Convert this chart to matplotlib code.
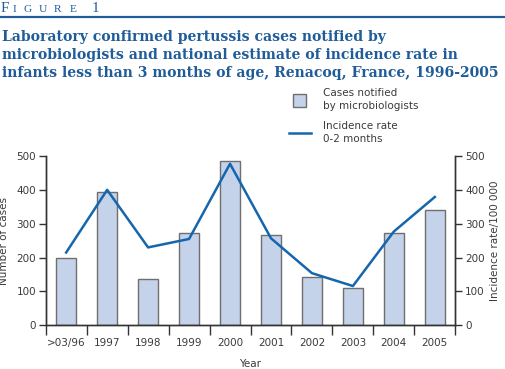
import matplotlib
matplotlib.use("Agg")
import matplotlib.pyplot as plt
import numpy as np

categories = [">03/96", "1997", "1998", "1999", "2000", "2001", "2002", "2003", "2004", "2005"]
cases = [198, 395, 136, 274, 485, 268, 142, 109, 272, 341]
incidence = [215, 400, 230, 255, 477, 257, 154, 116, 277, 379]
yticks = [0, 100, 200, 300, 400, 500]

W, H = 505, 369
fig = plt.figure(figsize=(W / 100, H / 100), dpi=100)
blue_title = "#1f5c99"
line_blue = "#1566ad"
bar_fill = "#c4d3ea"
bar_edge = "#6f6f6f"
txt = "#3a3a3a"
sans = "DejaVu Sans"

def fx(px):
    return px / W

def fy(py):
    return 1 - py / H

# Header
fig.text(fx(1), fy(12.5), "F", color=blue_title, fontsize=10.8, family="Liberation Serif", va="baseline")
for ch, xp in zip("IGURE", [13, 23, 39, 54, 70]):
    fig.text(fx(xp), fy(12.5), ch, color=blue_title, fontsize=8.2, family="Liberation Serif", va="baseline")
fig.text(fx(92), fy(12.5), "1", color=blue_title, fontsize=10.8, family="Liberation Serif", va="baseline")
fig.add_artist(plt.Line2D([0, 1], [fy(16.5), fy(16.5)], color=blue_title, lw=1.6, transform=fig.transFigure))

title_lines = ["Laboratory confirmed pertussis cases notified by",
               "microbiologists and national estimate of incidence rate in",
               "infants less than 3 months of age, Renacoq, France, 1996-2005"]
for i, line in enumerate(title_lines):
    fig.text(fx(2), fy(40.5 + 18.5 * i), line, color=blue_title, fontsize=10.05,
             family="DejaVu Serif", fontweight="bold", va="baseline")

# Axes
ax = fig.add_axes([fx(45.7), fy(325.3), fx(455.3) - fx(45.7), fy(156) - fy(325.3)])
xpos = np.arange(len(categories))
ax.bar(xpos, cases, width=0.5, color=bar_fill, edgecolor=bar_edge, linewidth=1.0, zorder=2)
ax.set_xlim(-0.5, len(categories) - 0.5)
ax.set_ylim(0, 500)
ax.set_yticks(yticks)
ax.set_yticklabels([str(v) for v in yticks], color=txt, fontsize=7.5, family=sans)
ax.set_xticks(np.arange(len(categories) + 1) - 0.5)
ax.set_xticklabels([])
ax.set_xticks(xpos, minor=True)
ax.set_xticklabels(categories, minor=True, color=txt, fontsize=7.5, family=sans)
ax.tick_params(axis="x", which="major", direction="out", length=7, width=1.0, color="#333333")
ax.tick_params(axis="x", which="minor", length=0, pad=9)
ax.tick_params(axis="y", direction="out", length=5, width=1.0, color="#333333", pad=2)
ax.spines["top"].set_visible(False)
for s in ["left", "right", "bottom"]:
    ax.spines[s].set_color("#333333")
    ax.spines[s].set_linewidth(1.0)
ax.set_ylabel("Number of cases", color=txt, fontsize=7.5, family=sans, labelpad=5)
ax.set_xlabel("Year", color=txt, fontsize=7.5, family=sans, labelpad=8)

ax2 = ax.twinx()
ax2.plot(xpos, incidence, color=line_blue, lw=1.8, zorder=3)
ax2.set_ylim(0, 500)
ax2.set_yticks(yticks)
ax2.set_yticklabels([str(v) for v in yticks], color=txt, fontsize=7.5, family=sans)
ax2.tick_params(axis="y", direction="out", length=5, width=1.0, color="#333333", pad=2)
ax2.spines["top"].set_visible(False)
for s in ["left", "right", "bottom"]:
    ax2.spines[s].set_color("#333333")
    ax2.spines[s].set_linewidth(1.0)
ax2.set_ylabel("Incidence rate/100 000", color=txt, fontsize=7.5, family=sans, labelpad=4)

# Legend (manual)
fig.add_artist(plt.Rectangle((fx(292.5), fy(107)), fx(13), fy(94) - fy(107),
                             facecolor=bar_fill, edgecolor=bar_edge, lw=1.0, transform=fig.transFigure))
fig.add_artist(plt.Line2D([fx(289), fx(311)], [fy(132.5), fy(132.5)], color=line_blue, lw=1.8,
                          transform=fig.transFigure))
fig.text(fx(323), fy(93), "Cases notified", color=txt, fontsize=7.5, family=sans, va="center")
fig.text(fx(323), fy(106), "by microbiologists", color=txt, fontsize=7.5, family=sans, va="center")
fig.text(fx(323), fy(126), "Incidence rate", color=txt, fontsize=7.5, family=sans, va="center")
fig.text(fx(323), fy(139), "0-2 months", color=txt, fontsize=7.5, family=sans, va="center")

fig.savefig("out.png", dpi=100)
